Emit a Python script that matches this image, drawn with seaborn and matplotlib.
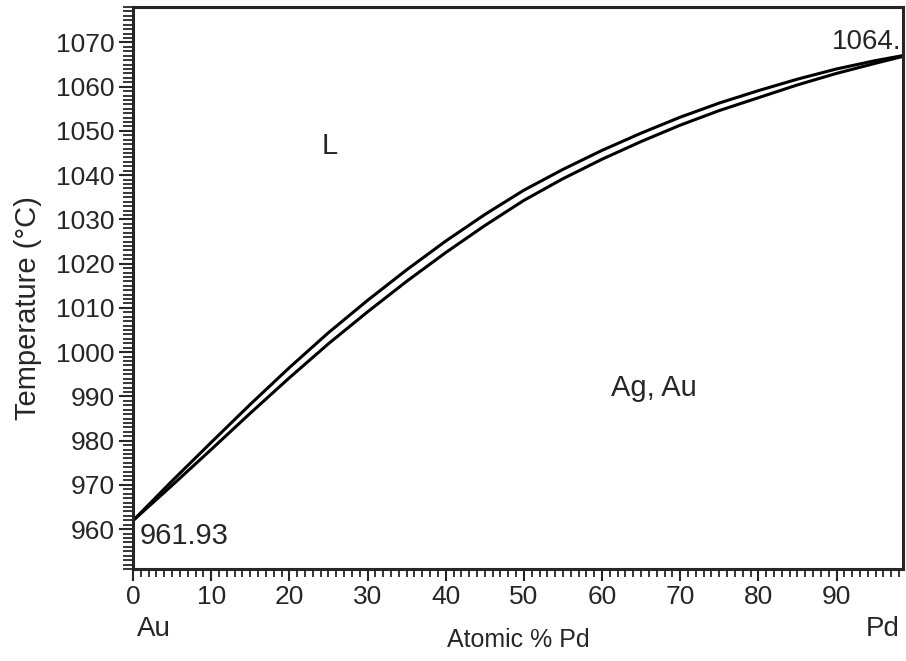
import numpy as np
import pandas as pd
import seaborn as sns
import matplotlib
matplotlib.use('Agg')
import matplotlib.pyplot as plt
from matplotlib.ticker import MultipleLocator

# Liquidus / solidus every 5 at.%
comp_pd = [0, 5, 10, 15, 20, 25, 30, 35, 40, 45, 50,
           55, 60, 65, 70, 75, 80, 85, 90, 95, 100]
liquidus = [961.93, 970.9, 979.6, 988.2, 996.5, 1004.4, 1011.7, 1018.6, 1025.1, 1031.1, 1036.6,
            1041.3, 1045.6, 1049.5, 1053.1, 1056.3, 1059.1, 1061.7, 1064.0, 1065.9, 1067.5]
solidus = [961.93, 969.9, 978.0, 986.2, 994.2, 1001.9, 1009.1, 1016.0, 1022.5, 1028.6, 1034.3,
           1039.2, 1043.6, 1047.6, 1051.3, 1054.6, 1057.5, 1060.4, 1063.0, 1065.3, 1067.5]
x_ticks = [0, 10, 20, 30, 40, 50, 60, 70, 80, 90]
y_ticks = [960, 970, 980, 990, 1000, 1010, 1020, 1030, 1040, 1050, 1060, 1070]

sns.set_style('ticks')
plt.rcParams['font.family'] = ['Liberation Sans', 'DejaVu Sans']

df = pd.DataFrame({'x': comp_pd, 'liq': liquidus, 'sol': solidus})

fig = plt.figure(figsize=(9.06, 6.61), dpi=100)
ax = fig.add_axes([0.1468, 0.1392, 0.8499, 0.8502])

sns.lineplot(data=df, x='x', y='liq', ax=ax, color='black', linewidth=2.2, sort=False)
sns.lineplot(data=df, x='x', y='sol', ax=ax, color='black', linewidth=2.2, sort=False)

ax.set_xlim(0, 98.5)
ax.set_ylim(951, 1078)
ax.set_xticks(x_ticks)
ax.set_yticks(y_ticks)
ax.xaxis.set_minor_locator(MultipleLocator(1))
ax.yaxis.set_minor_locator(MultipleLocator(1))
ax.tick_params(which='both', direction='out', labelsize=19)
ax.tick_params(axis='x', which='major', length=8.5, width=1.5, pad=3)
ax.tick_params(axis='x', which='minor', length=6, width=1.3)
ax.tick_params(axis='y', which='major', length=10, width=1.5, pad=3)
ax.tick_params(axis='y', which='minor', length=7, width=1.3)
for sp in ax.spines.values():
    sp.set_linewidth(2.2)
    sp.set_visible(True)

ax.set_xlabel('Atomic % Pd', fontsize=18)
ax.xaxis.set_label_coords(0.5, -0.105)
ax.xaxis.label.set_va('top')
ax.set_ylabel('Temperature (°C)', fontsize=21)
ax.yaxis.set_label_coords(-0.118, 0.464)

ax.text(25.2, 1046.5, 'L', fontsize=21, ha='center', va='center')
ax.text(66.6, 992, 'Ag, Au', fontsize=21, ha='center', va='center')
ax.text(0.9, 958.4, '961.93', fontsize=21, ha='left', va='center')
ax.text(98.3, 1070.2, '1064.', fontsize=20, ha='right', va='center')
ax.text(0.005, -0.083, 'Au', fontsize=20, ha='left', va='top', transform=ax.transAxes)
ax.text(0.996, -0.083, 'Pd', fontsize=20, ha='right', va='top', transform=ax.transAxes)

fig.savefig('out.png', dpi=100)
